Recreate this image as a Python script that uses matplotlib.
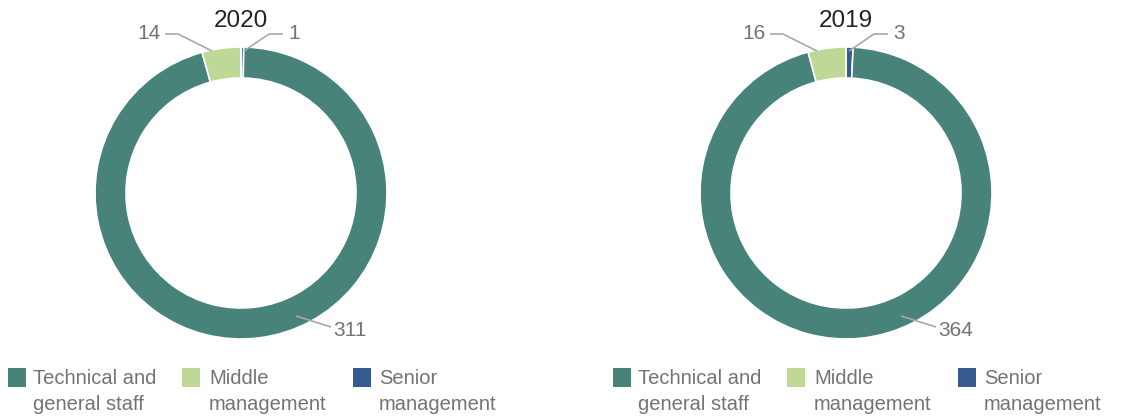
import matplotlib
matplotlib.use("Agg")
import matplotlib.pyplot as plt
from matplotlib.patches import Rectangle

# ---- data ----
categories = ["Technical and\ngeneral staff", "Middle\nmanagement", "Senior\nmanagement"]
years = ["2020", "2019"]
values_2020 = [311, 14, 1]
values_2019 = [364, 16, 3]
colors = ["#48837a", "#c0d896", "#375a91"]

W, H = 1137, 417
fig = plt.figure(figsize=(W / 100, H / 100), dpi=100)
ax = fig.add_axes([0, 0, 1, 1])
ax.set_xlim(0, W)
ax.set_ylim(0, H)
ax.set_aspect("equal")
ax.axis("off")

FONT = ["Liberation Sans", "DejaVu Sans"]
LABEL_COLOR = "#737373"
LINE_COLOR = "#a8a8a8"


def Y(y_img):
    return H - y_img


def draw_donut(cx, values, year):
    # pie order clockwise from top: senior, technical, middle
    order = [2, 0, 1]
    vals = [values[i] for i in order]
    cols = [colors[i] for i in order]
    ax.pie(vals, colors=cols, startangle=90, counterclock=False,
           center=(cx, Y(193)), radius=146, frame=True,
           wedgeprops=dict(width=31, edgecolor="white", linewidth=1.2))
    ax.text(cx, Y(27), year, ha="center", va="baseline", fontsize=17.5,
            color="#222222", family=FONT)


def leader(pts, dx):
    xs = [p[0] + dx for p in pts]
    ys = [Y(p[1]) for p in pts]
    ax.plot(xs, ys, color=LINE_COLOR, lw=1.2, solid_capstyle="butt")


for k, (year, vals) in enumerate(zip(years, [values_2020, values_2019])):
    dx = 0 if k == 0 else 605
    cx = 241 + dx
    draw_donut(cx, vals, year)
    # middle management label (left of top)
    leader([(165, 34), (178, 34), (212, 51)], dx)
    ax.text(161 + dx, Y(39), str(vals[1]), ha="right", va="baseline",
            fontsize=15, color=LABEL_COLOR, family=FONT)
    # senior management label (right of top)
    leader([(283, 34), (269, 34), (244, 51)], dx)
    ax.text(288 + dx, Y(39), str(vals[2]), ha="left", va="baseline",
            fontsize=15, color=LABEL_COLOR, family=FONT)
    # technical staff label (bottom right)
    leader([(296, 316), (331, 327)], dx)
    ax.text(333 + dx, Y(336), str(vals[0]), ha="left", va="baseline",
            fontsize=15, color=LABEL_COLOR, family=FONT)

    # legend
    sq_x = [8, 182, 353]
    tx_x = [33, 209, 379]
    for i, cat in enumerate(categories):
        ax.add_patch(Rectangle((sq_x[i] + dx, Y(387)), 18, 19,
                               facecolor=colors[i], edgecolor="none"))
        for j, line in enumerate(cat.split("\n")):
            ax.text(tx_x[i] + dx, Y(384 + 26 * j), line, ha="left",
                    va="baseline", fontsize=14.5, color=LABEL_COLOR,
                    family=FONT)

fig.savefig("out.png", dpi=100)
